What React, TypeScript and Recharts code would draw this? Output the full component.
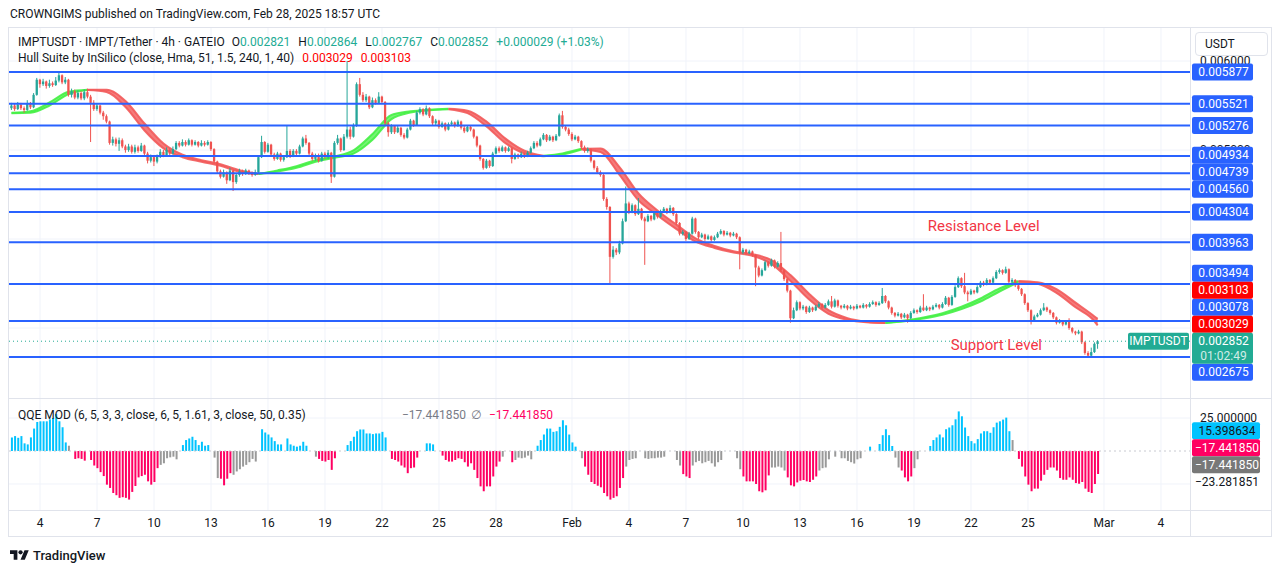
import React from "react";
import { ComposedChart, Bar, Area, XAxis, YAxis, CartesianGrid, ReferenceLine, ReferenceDot, Cell } from "recharts";

// ---------- price data (units of 0.000001 USDT), 4h candles from Jan 2 12:00 ----------
const opens = [
5470,5500,5460,5510,5470,5450,5520,5480,5620,5790,
5740,5770,5720,5750,5730,5780,5840,5760,5790,5620,
5660,5590,5640,5580,5650,5600,5530,5460,5500,5420,
5380,5320,5080,5120,5070,5110,5040,5000,5040,4980,
5030,4990,5050,4960,4880,4920,4870,4930,4980,4940,
5000,4960,5010,5080,5050,5090,5060,5110,5060,5090,
5050,5080,5060,5090,5010,4870,4760,4700,4750,4660,
4770,4640,4720,4760,4730,4770,4740,4720,4750,4920,
5090,4980,5060,4950,4900,4960,4890,4920,4990,4930,
4990,4960,5040,5130,5080,4960,4900,4940,4880,4960,
4920,4970,4700,5080,5130,5000,5150,5230,5150,5270,
5740,5620,5560,5600,5480,5560,5530,5600,5540,5300,
5200,5270,5200,5250,5170,5140,5230,5330,5280,5420,
5460,5400,5470,5380,5300,5330,5260,5300,5230,5290,
5310,5270,5320,5250,5210,5260,5230,5150,5050,4900,
4800,4880,4820,4960,5020,4990,5030,4990,5020,4900,
4950,4920,4960,4930,4970,5020,5080,5050,5120,5170,
5110,5150,5110,5160,5390,5260,5230,5180,5120,5150,
5100,5030,4990,5010,4880,4800,4750,4720,4450,4360,
3800,3880,3850,3950,4200,4400,4300,4380,4280,4340,
4230,4200,4260,4220,4290,4250,4310,4340,4300,4350,
4280,4180,4060,4080,4000,4060,4230,4080,4020,4050,
4000,4030,3990,4020,4060,4090,4050,4070,4040,4060,
4020,3850,3880,3840,3860,3820,3680,3590,3650,3740,
3700,3760,3690,3730,3650,3550,3420,3110,3200,3290,
3220,3240,3180,3230,3200,3240,3270,3230,3260,3300,
3240,3310,3250,3230,3250,3220,3240,3220,3250,3230,
3260,3240,3270,3290,3260,3280,3360,3300,3230,3170,
3140,3160,3120,3150,3110,3170,3200,3180,3230,3200,
3230,3210,3240,3260,3230,3270,3340,3260,3350,3460,
3560,3470,3400,3380,3420,3400,3460,3510,3490,3540,
3510,3560,3630,3650,3620,3660,3520,3540,3480,3440,
3380,3280,3200,3080,3130,3150,3200,3230,3200,3170,
3120,3060,3080,3040,3070,3000,2960,2940,2960,2840,
2720,2690,2730,2821];
const closes = [
5500,5460,5510,5470,5450,5520,5480,5620,5790,5740,
5770,5720,5750,5730,5780,5840,5760,5790,5620,5660,
5590,5640,5580,5650,5600,5530,5460,5500,5420,5380,
5320,5080,5120,5070,5110,5040,5000,5040,4980,5030,
4990,5050,4960,4880,4920,4870,4930,4980,4940,5000,
4960,5010,5080,5050,5090,5060,5110,5060,5090,5050,
5080,5060,5090,5010,4870,4760,4700,4750,4660,4770,
4640,4720,4760,4730,4770,4740,4720,4750,4920,5090,
4980,5060,4950,4900,4960,4890,4920,4990,4930,4990,
4960,5040,5130,5080,4960,4900,4940,4880,4960,4920,
4970,4700,5080,5130,5000,5150,5230,5150,5270,5740,
5620,5560,5600,5480,5560,5530,5600,5540,5300,5200,
5270,5200,5250,5170,5140,5230,5330,5280,5420,5460,
5400,5470,5380,5300,5330,5260,5300,5230,5290,5310,
5270,5320,5250,5210,5260,5230,5150,5050,4900,4800,
4880,4820,4960,5020,4990,5030,4990,5020,4900,4950,
4920,4960,4930,4970,5020,5080,5050,5120,5170,5110,
5150,5110,5160,5390,5260,5230,5180,5120,5150,5100,
5030,4990,5010,4880,4800,4750,4720,4450,4360,3800,
3880,3850,3950,4200,4400,4300,4380,4280,4340,4230,
4200,4260,4220,4290,4250,4310,4340,4300,4350,4280,
4180,4060,4080,4000,4060,4230,4080,4020,4050,4000,
4030,3990,4020,4060,4090,4050,4070,4040,4060,4020,
3850,3880,3840,3860,3820,3680,3590,3650,3740,3700,
3760,3690,3730,3650,3550,3420,3110,3200,3290,3220,
3240,3180,3230,3200,3240,3270,3230,3260,3300,3240,
3310,3250,3230,3250,3220,3240,3220,3250,3230,3260,
3240,3270,3290,3260,3280,3360,3300,3230,3170,3140,
3160,3120,3150,3110,3170,3200,3180,3230,3200,3230,
3210,3240,3260,3230,3270,3340,3260,3350,3460,3560,
3470,3400,3380,3420,3400,3460,3510,3490,3540,3510,
3560,3630,3650,3620,3660,3520,3540,3480,3440,3380,
3280,3200,3080,3130,3150,3200,3230,3200,3170,3120,
3060,3080,3040,3070,3000,2960,2940,2960,2840,2720,
2690,2730,2823,2852];
const highs = [
5530,5520,5540,5530,5490,5560,5540,5640,5810,5800,
5800,5780,5790,5770,5820,5870,5850,5820,5800,5690,
5680,5670,5660,5680,5690,5620,5560,5520,5510,5440,
5400,5330,5150,5140,5140,5130,5060,5070,5060,5060,
5050,5080,5060,4980,4950,4940,4950,5010,5000,5030,
5020,5040,5100,5100,5120,5110,5130,5120,5110,5100,
5110,5100,5110,5100,5020,4880,4780,4780,4760,4800,
4780,4740,4790,4780,4790,4780,4760,4780,4940,5160,
5100,5080,5070,4970,4980,4970,4940,5280,5010,5010,
5010,5060,5150,5170,5090,4980,4960,4960,4980,4980,
5000,4980,5100,5170,5140,5180,6000,5260,5300,5760,
5810,5650,5630,5610,5590,5580,5650,5610,5550,5320,
5290,5280,5280,5260,5190,5250,5350,5340,5440,5480,
5470,5500,5480,5390,5350,5340,5320,5310,5310,5330,
5320,5340,5330,5270,5280,5270,5240,5160,5060,4910,
4900,4890,4980,5040,5040,5050,5040,5040,5030,4970,
4960,4980,4970,4990,5040,5100,5100,5140,5190,5180,
5170,5160,5180,5410,5440,5280,5250,5200,5170,5160,
5110,5050,5030,5020,4890,4820,4770,4730,4470,4370,
3920,3900,3980,4230,4590,4420,4400,4390,4460,4350,
4250,4280,4270,4310,4300,4330,4360,4350,4380,4360,
4290,4190,4100,4090,4080,4250,4240,4090,4070,4060,
4050,4040,4040,4080,4110,4100,4090,4080,4080,4070,
4030,3900,3890,3880,3870,3830,3700,3670,3760,3750,
3780,3770,3750,4080,3660,3560,3430,3230,3310,3300,
3260,3250,3250,3240,3260,3290,3280,3280,3320,3360,
3330,3320,3260,3270,3260,3260,3250,3270,3260,3280,
3270,3290,3310,3300,3300,3450,3370,3310,3240,3180,
3180,3170,3170,3160,3190,3220,3210,3250,3380,3250,
3240,3260,3280,3270,3290,3360,3350,3370,3480,3580,
3570,3620,3420,3440,3430,3480,3530,3530,3560,3550,
3580,3650,3670,3660,3690,3670,3560,3550,3490,3450,
3390,3290,3210,3150,3170,3220,3280,3240,3210,3180,
3130,3100,3090,3090,3110,3010,2970,2980,2970,2850,
2740,2780,2840,2864];
const lows = [
5450,5440,5450,5450,5420,5440,5460,5470,5610,5700,
5720,5690,5700,5710,5720,5760,5740,5740,5600,5590,
5570,5570,5560,5560,5580,5090,5440,5440,5400,5340,
5300,5060,5050,5040,4990,5020,4970,4980,4960,4960,
4970,4980,4940,4850,4860,4820,4850,4910,4920,4930,
4940,4950,5000,5030,5040,5040,5050,5040,5050,5030,
5040,5040,5050,4990,4850,4740,4680,4690,4620,4650,
4540,4620,4700,4710,4720,4720,4700,4710,4740,4910,
4960,4970,4930,4880,4890,4870,4870,4910,4910,4920,
4940,4950,5030,5060,4940,4880,4880,4860,4870,4900,
4900,4630,4690,5060,4980,4990,5130,5120,5140,5260,
5600,5540,5540,5460,5470,5510,5520,5520,5280,5150,
5180,5180,5190,5150,5120,5130,5220,5260,5270,5400,
5380,5390,5360,5280,5280,5240,5250,5210,5220,5270,
5250,5260,5230,5190,5200,5210,5130,5030,4880,4780,
4790,4800,4810,4950,4970,4980,4970,4980,4850,4890,
4900,4910,4910,4920,4960,5010,5030,5040,5110,5090,
5100,5090,5100,5150,5240,5210,5160,5100,5110,5080,
5010,4970,4970,4860,4780,4730,4700,4430,4330,3500,
3780,3820,3830,3940,4190,4280,4290,4260,4270,4210,
3710,4190,4200,4210,4230,4240,4300,4280,4290,4260,
4160,4040,4040,3980,3990,4050,4060,4000,4010,3980,
3990,3970,3980,4010,4050,4030,4040,4020,4030,4000,
3660,3830,3820,3830,3800,3470,3570,3580,3640,3680,
3690,3670,3680,3630,3530,3400,3060,3100,3190,3200,
3200,3160,3170,3180,3190,3230,3210,3220,3250,3220,
3230,3230,3210,3220,3200,3210,3200,3210,3220,3220,
3220,3230,3260,3240,3250,3270,3280,3210,3150,3120,
3130,3100,3110,3060,3100,3160,3160,3170,3190,3190,
3190,3200,3230,3210,3220,3260,3240,3250,3340,3450,
3450,3380,3300,3370,3380,3390,3450,3470,3480,3490,
3500,3550,3610,3600,3610,3500,3500,3460,3420,3360,
3260,3180,3040,3070,3120,3140,3190,3180,3150,3100,
3040,3050,3020,3030,2980,2940,2920,2930,2820,2700,
2670,2680,2720,2767];

// Hull Suite centre line, read once per day (candle index) + last bar
const hullIdx = [0,6,12,18,24,30,36,42,48,54,60,66,72,78,84,90,96,102,108,114,120,126,132,138,144,150,156,162,168,174,180,186,192,198,204,210,216,222,228,234,240,246,252,258,264,270,276,282,288,294,300,306,312,318,324,330,336,342,343];
const hullMid = [5416,5427,5517,5641,5675,5664,5517,5259,5046,4933,4877,4832,4765,4731,4765,4810,4877,4922,4978,5147,5371,5428,5450,5461,5428,5293,5102,4978,4933,4956,5010,4998,4765,4473,4293,4136,3990,3911,3855,3821,3742,3562,3349,3181,3102,3068,3057,3080,3113,3158,3226,3315,3428,3523,3506,3416,3259,3103,3066];

// horizontal support / resistance levels
const levels = [5877, 5521, 5276, 4934, 4739, 4560, 4304, 3963, 3494, 3078, 2675];
const priceTicks = [3000, 4000, 5000, 6000];
const shownTickLabels = [5000, 6000];

// time axis (candle index of day starts)
const dayTickIdx = [9, 27, 45, 63, 81, 99, 117, 135, 153, 177, 195, 213, 231, 249, 267, 285, 303, 321, 345, 363];
const dayTickLabels = ["4", "7", "10", "13", "16", "19", "22", "25", "28", "Feb", "4", "7", "10", "13", "16", "19", "22", "25", "Mar", "4"];

// QQE MOD histogram (one value per candle) and its signal state: B bull, R bear, G neutral
const qqeVals = [
10.3,11.3,10,11.3,5.8,5,10.3,17,22,22.5,
22.5,22.5,24,25,28,22.5,18,6.5,4,null,
-6,-5.5,-6,-7.3,null,-6.8,-11,-13,-16,-19,
-25.5,-28,-31.8,-33.5,-35.5,-35,-35.5,-36.8,-31,-26.5,
-20,-19,-18,-23,-25.5,-23.5,-13,-10.5,-9.3,-5.5,
-4.8,-4.3,-6.3,null,4.5,8.3,9.5,10.8,8.3,4.5,
7,4,4.5,null,-5,-20.5,-21,-26,-21,-16.8,
-18,-15.5,-13.8,-11.8,-10.5,-8.5,-6,-8,null,16.5,
14,12.5,10.3,7.5,5,5,null,9.5,5,4,
3.3,4,7,4,null,null,-4.3,-6,-7.5,-8,
-6.8,-14.3,-5.5,null,null,null,4.5,7.5,10.8,15,
16.3,16.3,13.3,13.3,12.8,13.3,13.3,14.5,10.3,null,
-6,-6.8,-8,-11,-12.5,-16.8,-13,-12.5,-5,null,
null,5.8,5.8,5,null,null,-3.5,-6.8,-8,-8,
-6.8,-5.5,-6,-8.5,-11.8,-9.3,-14.3,-20.5,-26.8,-30.5,
-26.8,-26.8,-19.3,-11.8,-8,-4.3,null,null,-8.5,-6.8,
-5,-5.5,-5,-3.5,-6.3,null,4,8.3,12.5,17,
17,14.5,15,18.3,23.3,19.5,12.5,6.5,3.3,null,
-5.5,-11.8,-18,-23.5,-25,-26.3,-27.5,-31.8,-34.3,-36.8,
-35.5,-34.3,-28,-20.5,-11.8,-6.8,-6,-5.5,null,null,
-5.5,-6,-5.5,-5.5,-5,-5,-4.3,null,null,null,
-6.8,-11,-17.5,-19.3,-20.5,-11,-8.5,-7.5,-9.3,-8.5,
-7.5,-9.3,-11.8,-8.5,-6.8,null,null,null,null,-5.5,
-13.8,-19.3,-23,-23,-23,-25,-30.5,-31.3,-29.8,-18.5,
-12.5,-12.5,-11.8,-12.5,-14.8,-20,-26,-26.8,-23.8,-22.5,
-22,-23,-23.5,-21.8,-19.3,-14.8,-13,-12.5,-6.3,null,
-4.3,null,-5.5,-5.5,-7.5,-8.5,-9.5,-6.3,-5.5,null,
null,3.3,null,null,5.3,12,16.5,12,3.8,-5,
-12.5,-14.8,-20,-23,-19.3,-13,-6.3,null,null,null,
3.8,8.3,10.3,12.5,10.3,16.5,17.8,19.5,24,30,
26.3,17.8,11.3,7.5,5.8,9,13.3,15,15,13.8,
18,21.5,22.5,23.8,25.3,15,8.3,null,-6,-11.8,
-19.3,-25.5,-30.5,-28.5,-28.5,-22.5,-18,-14.3,-12.5,-12.5,
-14.8,-20.5,-21.8,-21.8,-20,-21.8,-24.3,-24.8,-23.5,-28.5,
-31,-31.8,-25,-17.44185];
const qqeState =
"BBBBBBBBBB" + "BBBBBBBBGG" + "RRRRGRRRRR" + "RRRRRRRRRR" + "RRRRRRRGGG" +
"GGGGBBBBBB" + "BBBGGGRRRR" + "GGGGGGGGGB" + "BBBBBBBBBB" + "BBBBGGGRRR" +
"RRRGGGBBBB" + "BBBBBBBBBG" + "RRRRRRRRRG" + "GBBBGGRRRR" + "RRRRRRRRRR" +
"RRRRRGGGRG" + "GGGGGGBBBB" + "BBBBBBBBBG" + "GRRRRRRRRR" + "RRRRGGGGGG" +
"GGGGGGGGGG" + "GGRRRGGGGG" + "GGGGGGGGGG" + "GRRRRRRRRR" + "GGGGGRRRRR" +
"RRRRRGGGGG" + "GGGGGGGGGG" + "GBBBBBBBBG" + "GRRRRGGGGG" + "BBBBBBBBBB" +
"BBBBBBBBBB" + "BBBBBBGGRR" + "RRRRRRRRRR" + "RRRRRRRRRR" + "RRRR";
const qqeUpperLast = 15.398634;
const qqeLowerLast = -23.281851;
const qqeTick = 25;

// text notes on the chart (candle index, price)
const noteText = ["Resistance Level", "Support Level"];
const noteIdx = [307, 311];
const notePrice = [4147, 2810];

// ---------- styling / layout ----------
const FONT = "Roboto, 'Noto Sans', 'DejaVu Sans', sans-serif";
const TEXT = "#131722";
const UP = "#26a69a";
const DOWN = "#ef5350";
const TEAL = "#22ab94";
const LEVEL = "#2962ff";
const HULL_UP = "#45f045";
const HULL_DN = "#f25a5a";
const Q_COL: Record<string, string> = { B: "#00c3ff", R: "#ff0062", G: "#999999" };
const GRID = "#f0f3fa";
const BORDER = "#e0e3eb";

const CH_W = 1263;
const AX_W = 82;
const PLOT_W = CH_W - AX_W;
const PRICE_H = 370;
const QQE_H = 139;
const XAX_H = 28;
const QPLOT_H = QQE_H - XAX_H;
const X_DOM: [number, number] = [-0.79, 372.16];
const P_DOM: [number, number] = [2214, 6371];
const Q_DOM: [number, number] = [-44.7, 39.4];

const pxX = (i: number) => ((i - X_DOM[0]) / (X_DOM[1] - X_DOM[0])) * PLOT_W;
const pyP = (v: number) => ((P_DOM[1] - v) / (P_DOM[1] - P_DOM[0])) * PRICE_H;
const pyQ = (v: number) => ((Q_DOM[1] - v) / (Q_DOM[1] - Q_DOM[0])) * QPLOT_H;

const fmtP = (v: number) => (v / 1e6).toFixed(6);
const fmtQ = (v: number) => (v < 0 ? "\u2212" : "") + Math.abs(v).toFixed(6);

const candleRows = closes.map((c, i) => ({ i, o: opens[i], h: highs[i], l: lows[i], c }));
const qqeRows = qqeVals.map((q, i) => ({ i, q, s: qqeState[i] }));

const hullRows = hullIdx.map((i, k) => {
  const a = Math.max(0, k - 1);
  const b = Math.min(hullIdx.length - 1, k + 1);
  const s = Math.abs((hullMid[b] - hullMid[a]) / (hullIdx[b] - hullIdx[a]));
  return { i, lo: hullMid[k] - s, hi: hullMid[k] + s };
});
const hullRuns: { up: boolean; rows: typeof hullRows }[] = [];
for (let k = 0; k < hullRows.length - 1; k++) {
  const up = hullMid[k + 1] >= hullMid[k];
  const last = hullRuns[hullRuns.length - 1];
  if (last && last.up === up) last.rows.push(hullRows[k + 1]);
  else hullRuns.push({ up, rows: [hullRows[k], hullRows[k + 1]] });
}

// ---------- price-scale tags, stacked like the platform does ----------
type Tag = { v: number; text: string; sub?: string; bg: string; fg: string; h: number; line?: string; anchor?: boolean; shift?: number };
function stack(tags: Tag[], yOf: (v: number) => number) {
  const ideal = tags.map((t) => yOf(t.v));
  const order = tags.map((_, k) => k).sort((a, b) => ideal[a] - ideal[b] || a - b);
  const anchor = tags.findIndex((t) => t.anchor);
  const pos = order.indexOf(anchor);
  const top: number[] = new Array(tags.length);
  top[anchor] = ideal[anchor] - 8.5;
  let prevTop = top[anchor];
  for (let j = pos - 1; j >= 0; j--) {
    const k = order[j];
    top[k] = Math.min(ideal[k] - 8.5, prevTop - tags[k].h);
    prevTop = top[k];
  }
  let prevBot = top[anchor] + tags[anchor].h;
  for (let j = pos + 1; j < order.length; j++) {
    const k = order[j];
    top[k] = Math.max(ideal[k] - 8.5, prevBot);
    prevBot = top[k] + tags[k].h;
  }
  tags.forEach((t, k) => (t.shift = top[k] + 8.5 - ideal[k]));
  return tags;
}

const lastC = candleRows[candleRows.length - 1];
const prevC = candleRows[candleRows.length - 2];
const hullLast = hullRows[hullRows.length - 1];
const qqeLast = qqeVals[qqeVals.length - 1] as number;

const priceTags: Tag[] = stack(
  [
    ...levels.map((v) => ({ v, text: fmtP(v), bg: LEVEL, fg: "#ffffff", h: 17, line: "level" })),
    { v: hullLast.hi, text: fmtP(hullLast.hi), bg: "#ff0000", fg: "#ffffff", h: 17 },
    { v: hullLast.lo, text: fmtP(hullLast.lo), bg: "#ff0000", fg: "#ffffff", h: 17 },
    { v: lastC.c, text: fmtP(lastC.c), sub: "01:02:49", bg: TEAL, fg: "#ffffff", h: 31, line: "price", anchor: true },
  ],
  pyP
);
const qqeTags: Tag[] = stack(
  [
    { v: qqeUpperLast, text: fmtQ(qqeUpperLast), bg: Q_COL.B, fg: TEXT, h: 17 },
    { v: qqeLast, text: fmtQ(qqeLast), bg: Q_COL.R, fg: "#ffffff", h: 17 },
    { v: qqeLast, text: fmtQ(qqeLast), bg: "#787878", fg: "#ffffff", h: 17 },
    { v: qqeLowerLast, text: fmtQ(qqeLowerLast), bg: "none", fg: TEXT, h: 17, anchor: true },
  ],
  pyQ
);

const tagLabel = (t: Tag, w: number, symbol?: string) => (props: any) => {
  const vb = props.viewBox || {};
  const yLine = vb.y ?? 0;
  const y = yLine + (t.shift ?? 0);
  const right = (vb.x ?? 0) + (vb.width ?? 0);
  const x0 = right + 2;
  return (
    <g>
      {symbol && (
        <g>
          <rect x={right - 62} y={yLine - 8.5} width={61} height={17} rx={2} fill={t.bg} />
          <text x={right - 31.5} y={yLine} dy="0.35em" textAnchor="middle" fontSize={12} fontFamily={FONT} fill="#ffffff">{symbol}</text>
        </g>
      )}
      {t.bg !== "none" && <rect x={x0} y={y - 8.5} width={w} height={t.h} rx={2} fill={t.bg} />}
      <text x={x0 + w / 2 + 1} y={y} dy="0.35em" textAnchor="middle" fontSize={12} fontFamily={FONT} fill={t.fg}>{t.text}</text>
      {t.sub && (
        <text x={x0 + w / 2 + 1} y={y + 15} dy="0.35em" textAnchor="middle" fontSize={12} fontFamily={FONT} fill="#ffffff" fillOpacity={0.8}>{t.sub}</text>
      )}
    </g>
  );
};

const plainLabel = (text: string) => (props: any) => {
  const vb = props.viewBox || {};
  const x0 = (vb.x ?? 0) + (vb.width ?? 0) + 10;
  return (
    <text x={x0} y={vb.y ?? 0} dy="0.35em" fontSize={12} fontFamily={FONT} fill={TEXT}>{text}</text>
  );
};

const noteLabel = (text: string) => (props: any) => {
  const vb = props.viewBox || {};
  const cx = (vb.x ?? 0) + (vb.width ?? 0) / 2;
  const cy = (vb.y ?? 0) + (vb.height ?? 0) / 2;
  return (
    <text x={cx} y={cy} dy="0.35em" textAnchor="middle" fontSize={15} fontFamily={FONT} fill="#f23645">{text}</text>
  );
};

const CandleShape = (props: any) => {
  const { x, y, width, height, payload } = props;
  if (!payload || !isFinite(x) || !isFinite(y)) return null;
  const top = Math.min(y, y + height);
  const span = Math.abs(height);
  const { o, h, l, c } = payload;
  const yv = (v: number) => (h === l ? top : top + ((h - v) / (h - l)) * span);
  const cx = x + width / 2;
  const col = c >= o ? UP : DOWN;
  const bt = yv(Math.max(o, c));
  const bb = yv(Math.min(o, c));
  return (
    <g>
      <line x1={cx} x2={cx} y1={top} y2={top + span} stroke={col} strokeWidth={1} />
      <rect x={cx - 1.15} y={bt} width={2.3} height={Math.max(1, bb - bt)} fill={col} />
    </g>
  );
};

const abs = (s: React.CSSProperties): React.CSSProperties => ({ position: "absolute", ...s });

export default function App() {
  const chg = lastC.c - prevC.c;
  const pct = (chg / prevC.c) * 100;
  return (
    <div style={abs({ left: 0, top: 0, width: 1281, height: 573, background: "#ffffff", fontFamily: FONT, color: TEXT, overflow: "hidden" })}>
      <div style={abs({ left: 10, top: 7, fontSize: 12, lineHeight: "14px", whiteSpace: "nowrap" })}>
        CROWNGIMS published on TradingView.com, Feb 28, 2025 18:57 UTC
      </div>

      {/* frame */}
      <div style={abs({ left: 8, top: 27, width: 1264, height: 510, border: `1px solid ${BORDER}`, boxSizing: "border-box" })} />

      {/* price pane */}
      <div style={abs({ left: 9, top: 28 })}>
        <ComposedChart width={CH_W} height={PRICE_H} data={candleRows} margin={{ top: 0, right: AX_W, bottom: 0, left: 0 }}>
          <CartesianGrid stroke={GRID} horizontalPoints={priceTicks.map(pyP)} verticalPoints={dayTickIdx.map(pxX)} />
          <XAxis type="number" dataKey="i" domain={X_DOM} allowDataOverflow hide />
          <YAxis type="number" domain={P_DOM} allowDataOverflow hide />
          {hullRuns.map((r, k) => (
            <Area
              key={"h" + k}
              data={r.rows}
              dataKey={(d: any) => [d.lo, d.hi]}
              type="monotone"
              fill={r.up ? HULL_UP : HULL_DN}
              fillOpacity={r.up ? 0.75 : 0.8}
              stroke={r.up ? HULL_UP : HULL_DN}
              strokeOpacity={0.9}
              strokeWidth={2}
              dot={false}
              activeDot={false}
              isAnimationActive={false}
            />
          ))}
          <Bar dataKey={(d: any) => [d.l, d.h]} barSize={3} shape={CandleShape} isAnimationActive={false} />
          {shownTickLabels.map((v) => (
            <ReferenceLine key={"t" + v} y={v} stroke="none" label={plainLabel(fmtP(v))} />
          ))}
          {priceTags.map((t, k) => (
            <ReferenceLine
              key={"p" + k}
              y={t.v}
              stroke={t.line === "level" ? LEVEL : t.line === "price" ? TEAL : "none"}
              strokeWidth={t.line === "level" ? 2 : 1}
              strokeDasharray={t.line === "price" ? "1 3" : undefined}
              label={tagLabel(t, 61, t.line === "price" ? "IMPTUSDT" : undefined)}
            />
          ))}
          {noteText.map((s, k) => (
            <ReferenceDot key={"n" + k} x={noteIdx[k]} y={notePrice[k]} r={1} fill="none" stroke="none" label={noteLabel(s)} />
          ))}
        </ComposedChart>
      </div>

      {/* QQE pane + time axis */}
      <div style={abs({ left: 9, top: 399 })}>
        <ComposedChart width={CH_W} height={QQE_H} data={qqeRows} margin={{ top: 0, right: AX_W, bottom: 0, left: 0 }}>
          <CartesianGrid stroke={GRID} horizontalPoints={[pyQ(qqeTick), pyQ(-qqeTick)]} verticalPoints={dayTickIdx.map(pxX)} />
          <XAxis
            type="number"
            dataKey="i"
            domain={X_DOM}
            allowDataOverflow
            ticks={dayTickIdx}
            interval={0}
            tickFormatter={(v: number) => dayTickLabels[dayTickIdx.indexOf(v)] ?? ""}
            height={XAX_H}
            axisLine={false}
            tickLine={false}
            tick={{ fontSize: 12, fill: TEXT, fontFamily: FONT }}
          />
          <YAxis type="number" domain={Q_DOM} allowDataOverflow hide />
          <ReferenceLine y={0} stroke="#c8cad1" strokeDasharray="2 3" strokeWidth={1} />
          <Bar dataKey="q" barSize={2} isAnimationActive={false}>
            {qqeRows.map((r, k) => (
              <Cell key={k} fill={Q_COL[r.s] || Q_COL.G} />
            ))}
          </Bar>
          <ReferenceLine y={qqeTick} stroke="none" label={plainLabel(qqeTick.toFixed(6))} />
          {qqeTags.map((t, k) => (
            <ReferenceLine key={"q" + k} y={t.v} stroke="none" label={tagLabel(t, 68)} />
          ))}
        </ComposedChart>
      </div>

      {/* separators */}
      <div style={abs({ left: 9, top: 398, width: 1263, height: 1, background: BORDER })} />
      <div style={abs({ left: 9, top: 510, width: 1263, height: 1, background: BORDER })} />
      <div style={abs({ left: 1190, top: 28, width: 1, height: 509, background: BORDER })} />

      {/* USDT box */}
      <div style={abs({ left: 1195, top: 32, width: 73, height: 24, border: `1px solid ${BORDER}`, borderRadius: 4, boxSizing: "border-box", background: "#fff", fontSize: 12, lineHeight: "22px", paddingLeft: 9 })}>
        USDT
      </div>

      {/* legends */}
      <div style={abs({ left: 18, top: 35, fontSize: 12, lineHeight: "14px", whiteSpace: "nowrap" })}>
        IMPTUSDT · IMPT/Tether · 4h · GATEIO
        <span style={{ marginLeft: 7 }}>O<span style={{ color: TEAL }}>{fmtP(lastC.o)}</span></span>
        <span style={{ marginLeft: 8 }}>H<span style={{ color: TEAL }}>{fmtP(lastC.h)}</span></span>
        <span style={{ marginLeft: 8 }}>L<span style={{ color: TEAL }}>{fmtP(lastC.l)}</span></span>
        <span style={{ marginLeft: 8 }}>C<span style={{ color: TEAL }}>{fmtP(lastC.c)}</span></span>
        <span style={{ marginLeft: 8, color: TEAL }}>
          {(chg >= 0 ? "+" : "\u2212") + fmtP(Math.abs(chg))} ({(pct >= 0 ? "+" : "\u2212") + Math.abs(pct).toFixed(2)}%)
        </span>
      </div>
      <div style={abs({ left: 18, top: 51, fontSize: 12, lineHeight: "14px", whiteSpace: "nowrap" })}>
        Hull Suite by InSilico (close, Hma, 51, 1.5, 240, 1, 40)
        <span style={{ marginLeft: 8, color: "#ff0000" }}>{fmtP(hullLast.lo)}</span>
        <span style={{ marginLeft: 8, color: "#ff0000" }}>{fmtP(hullLast.hi)}</span>
      </div>
      <div style={abs({ left: 18, top: 408, fontSize: 12, lineHeight: "14px", whiteSpace: "nowrap" })}>
        QQE MOD (6, 5, 3, 3, close, 6, 5, 1.61, 3, close, 50, 0.35)
      </div>
      <div style={abs({ left: 402, top: 408, fontSize: 12, lineHeight: "14px", whiteSpace: "nowrap", color: "#787b86" })}>
        {fmtQ(qqeLast)}
      </div>
      <div style={abs({ left: 471, top: 408, fontSize: 12, lineHeight: "14px", color: "#787b86" })}>∅</div>
      <div style={abs({ left: 489, top: 408, fontSize: 12, lineHeight: "14px", whiteSpace: "nowrap", color: Q_COL.R })}>
        {fmtQ(qqeLast)}
      </div>

      {/* footer logo */}
      <svg width={19} height={15} viewBox="0 0 36 28" style={abs({ left: 10, top: 548 })}>
        <path d="M14 22H7V11H0V4h14v18zM28 22h-8l7.5-18h8L28 22z" fill={TEXT} />
        <circle cx="20" cy="8" r="4" fill={TEXT} />
      </svg>
      <div style={abs({ left: 33, top: 548, fontSize: 13, lineHeight: "15px", fontWeight: 500, whiteSpace: "nowrap" })}>TradingView</div>
    </div>
  );
}
